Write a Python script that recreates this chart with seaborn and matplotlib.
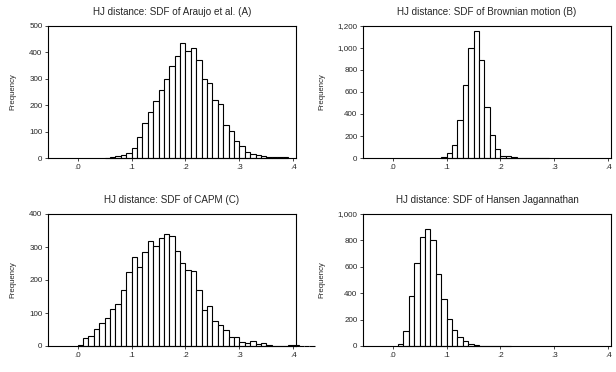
import numpy as np
import pandas as pd
import matplotlib
matplotlib.use("Agg")
import matplotlib.pyplot as plt
import matplotlib.ticker as mticker
import seaborn as sns

# Histogram counts (bin width 0.01)
BIN_WIDTH = 0.01

araujo_start = 0.05
araujo_counts = [1, 4, 8, 11, 19, 39, 78, 133, 175, 215, 258, 299, 348, 385, 434,
                 406, 416, 371, 299, 285, 220, 204, 125, 103, 63, 46, 21, 16, 13,
                 9, 5, 4, 4, 3]

brownian_start = 0.09
brownian_counts = [8, 45, 118, 346, 665, 1000, 1157, 887, 462, 210, 85, 21, 15, 8,
                   3, 1, 1, 0, 0, 2]

capm_start = 0.00
capm_counts = [2, 25, 29, 51, 71, 85, 113, 127, 171, 224, 271, 240, 284, 318, 302,
               326, 340, 334, 288, 253, 230, 227, 169, 108, 120, 76, 65, 50, 26, 28,
               12, 9, 15, 6, 8, 3, 1, 1, 1, 3, 2, 1, 1, 1]

hj_start = 0.01
hj_counts = [13, 111, 380, 628, 825, 886, 803, 544, 359, 208, 119, 66, 35, 15, 6,
             3, 2, 2, 2, 1, 1]

titles = ["HJ distance: SDF of Araujo et al. (A)",
          "HJ distance: SDF of Brownian motion (B)",
          "HJ distance: SDF of CAPM (C)",
          "HJ distance: SDF of Hansen Jagannathan"]
y_max = [500, 1200, 400, 1000]
y_step = [100, 200, 100, 200]
x_ticks = [0.0, 0.1, 0.2, 0.3, 0.4]
x_tick_labels = [".0", ".1", ".2", ".3", ".4"]

panels = [(araujo_start, araujo_counts), (brownian_start, brownian_counts),
          (capm_start, capm_counts), (hj_start, hj_counts)]

sns.set_style("ticks")
plt.rcParams['font.family'] = ['Liberation Sans', 'DejaVu Sans']

fig = plt.figure(figsize=(6.16, 3.72), dpi=100)
# axes boxes in pixels (left, top, right, bottom)
W, H = 616, 372
boxes = [(48, 26, 296, 158), (363, 26, 611, 158),
         (48, 214, 296, 346), (363, 214, 611, 346)]

for i, (start, counts) in enumerate(panels):
    l, t, r, b = boxes[i]
    ax = fig.add_axes([l / W, 1 - b / H, (r - l) / W, (b - t) / H])
    n = len(counts)
    lefts = start + BIN_WIDTH * np.arange(n)
    df = pd.DataFrame({"x": lefts + BIN_WIDTH / 2, "count": counts})
    sns.histplot(data=df, x="x", weights="count", binwidth=BIN_WIDTH,
                 binrange=(start, start + BIN_WIDTH * n), ax=ax,
                 color="white", edgecolor="black", linewidth=0.8, alpha=1)
    for p in ax.patches:
        p.set_clip_on(False)
    ax.set_xlim(-0.055, 0.405)
    ax.set_ylim(0, y_max[i])
    ax.set_yticks(np.arange(0, y_max[i] + 1, y_step[i]))
    ax.yaxis.set_major_formatter(mticker.FuncFormatter(lambda v, p: f"{int(v):,}"))
    ax.set_xticks(x_ticks)
    ax.set_xticklabels(x_tick_labels)
    ax.tick_params(labelsize=5.8, length=2.5, width=0.6, pad=1.5)
    ax.set_xlabel("")
    ax.set_ylabel("Frequency", fontsize=5.6, labelpad=9)
    ax.set_title(titles[i], fontsize=7.1, pad=8)
    for s in ax.spines.values():
        s.set_visible(True)
        s.set_linewidth(0.8)
        s.set_color("black")

fig.savefig("out.png", dpi=100)
